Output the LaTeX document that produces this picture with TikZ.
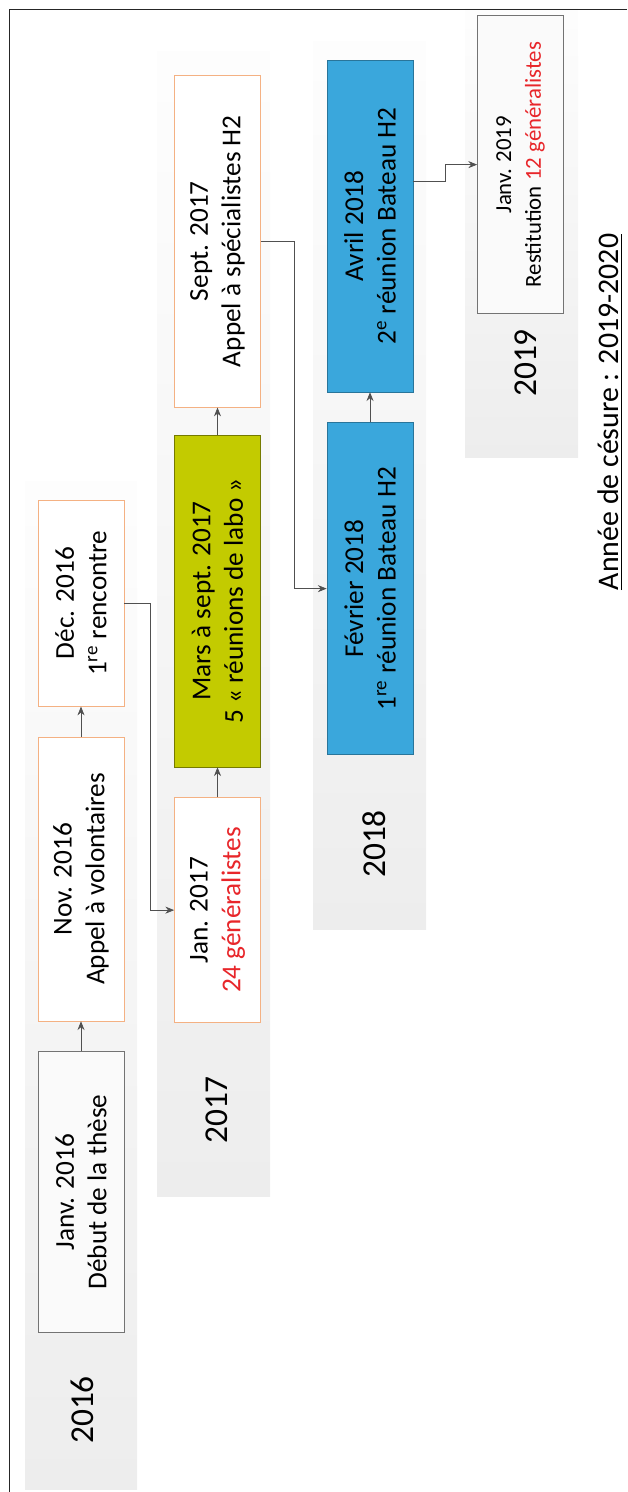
\documentclass[tikz,border=0pt]{standalone}
\usepackage{fontspec}
\setmainfont{Carlito}
\usetikzlibrary{arrows.meta,calc,positioning}
\definecolor{peach}{HTML}{F4B183}
\definecolor{olive}{HTML}{C3CB00}
\definecolor{sky}{HTML}{3AA7DC}
\definecolor{alert}{HTML}{E8262A}
\definecolor{bandgray}{HTML}{EDEDED}
\definecolor{wire}{HTML}{505050}
\tikzset{pin/.style={draw=wire, -{Stealth[length=5pt,width=4pt]}},
  evt/.style={draw=peach, fill=white, minimum height=17.2mm, align=center, inner sep=1pt,
    font=\fontsize{15.5}{18.5}\selectfont},
  plain/.style={evt, draw=black!55, fill=gray!4},
  lab/.style={evt, draw=olive!60!black, fill=olive},
  boat/.style={evt, draw=sky!70!black, fill=sky},
  band/.style={bottom color=bandgray, top color=bandgray!10!white},
  yr/.style={font=\fontsize{19}{23}\selectfont}}

\begin{document}
\begin{tikzpicture}[rotate=90, transform shape, x=0.2mm, y=0.2mm]
  \useasboundingbox (0,0) rectangle (1492,-627);
  % year bands
  \shade[band] (2,-25) rectangle (1010,-137);
  \shade[band] (295,-157) rectangle (1440,-270);
  \shade[band] (562,-313) rectangle (1450,-426);
  \shade[band] (1034,-465) rectangle (1483,-578);
  \draw[black!85] (0,-9) -- (1483,-9) -- (1483,-627);
  \node[yr] (y16) at (82,-82) {2016};
  \node[yr] (y17) at (382,-217) {2017};
  \node[yr] (y18) at (648,-374) {2018};
  \node[yr] (y19) at (1129,-526) {2019};
  % 2016
  \node[plain, minimum width=56.2mm, anchor=west] (janv16) at (159,-81) {Janv. 2016\\Début de la thèse};
  \node[evt, minimum width=56.8mm, right=6mm of janv16] (nov16) {Nov. 2016\\Appel à volontaires};
  \node[evt, minimum width=41.2mm, right=6mm of nov16] (dec16) {Déc. 2016\\1\textsuperscript{re} rencontre};
  % 2017
  \node[evt, minimum width=45mm, anchor=west] (jan17) at (469,-217.5) {Jan. 2017\\\textcolor{alert}{24 généralistes}};
  \node[lab, minimum width=66.4mm, right=6mm of jan17] (mars17) {Mars à sept. 2017\\5 «~réunions de labo~»};
  \node[evt, minimum width=66.4mm, right=5.4mm of mars17] (sept17) {Sept. 2017\\Appel à spécialistes H2};
  % 2018
  \node[boat, minimum width=66.4mm, anchor=west] (fev18) at (737,-370) {Février 2018\\1\textsuperscript{re} réunion Bateau H2};
  \node[boat, minimum width=66.4mm, right=6mm of fev18] (avr18) {Avril 2018\\2\textsuperscript{e} réunion Bateau H2};
  % 2019
  \node[plain, minimum width=59.6mm, anchor=west, font=\fontsize{13}{17}\selectfont] (janv19) at (1178,-520.5) {Janv. 2019\\Restitution \textcolor{alert}{12 généralistes}};
  \node[font=\fontsize{17}{20}\selectfont] (cesure) at (1080,-610) {\underline{Année de césure : 2019-2020}};
  % links along each year
  \draw[pin] (janv16) -- (nov16);
  \draw[pin] (nov16) -- (dec16);
  \draw[pin] (jan17) -- (mars17);
  \draw[pin] (mars17) -- (sept17);
  \draw[pin] (fev18) -- (avr18);
  % steps down to the next year
  \draw[pin] (dec16.south) -- ++(0,-26) -| (jan17.north);
  \draw[pin] (sept17.south) -- ++(0,-33) -| (fev18.north);
  \draw[pin] ($(avr18.south)+(45,0)$) -- ++(0,-32) -| (janv19.north);
\end{tikzpicture}
\end{document}
